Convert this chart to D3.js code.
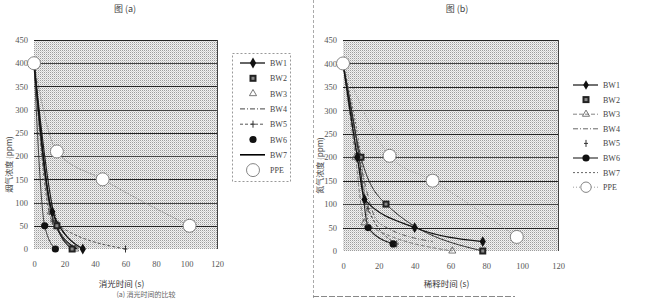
<!DOCTYPE html>
<html>
<head>
<meta charset="utf-8">
<script src="https://cdn.jsdelivr.net/npm/d3@7/dist/d3.min.js"></script>
<style>
  html, body { margin: 0; padding: 0; background: #fff; }
  svg { display: block; }
</style>
</head>
<body>
<svg id="chart" width="655" height="300"></svg>
<script>
// Tick values shared by both panels
const xTicks = [0, 20, 40, 60, 80, 100, 120];
const yTicks = [0, 50, 100, 150, 200, 250, 300, 350, 400, 450];

const seriesNames = ["BW1", "BW2", "BW3", "BW4", "BW5", "BW6", "BW7", "PPE"];

// Panel (a): [time, concentration]
const aBW1 = [[0, 400], [12, 80], [32, 0]];
const aBW2 = [[0, 400], [15, 50], [25, 0]];
const aBW3 = [[0, 400], [11, 80], [27, 0]];
const aBW4 = [[0, 400], [10, 110], [30, 0]];
const aBW5 = [[0, 400], [12, 60], [60, 0]];
const aBW6 = [[0, 400], [7, 50], [14, 0]];
const aBW7 = [[0, 400], [13, 60], [28, 0]];
const aPPE = [[0, 400], [15, 210], [45, 150], [102, 50]];

// Panel (b): [time, concentration]
const bBW1 = [[0, 400], [8, 200], [12, 110], [40, 50], [78, 20]];
const bBW2 = [[0, 400], [10, 200], [24, 100], [78, 0]];
const bBW3 = [[0, 400], [7, 200], [12, 60], [61, 0]];
const bBW4 = [[0, 400], [9, 200], [20, 60], [50, 20]];
const bBW5 = [[0, 400], [8, 200], [14, 90], [30, 15]];
const bBW6 = [[0, 400], [9, 200], [14, 50], [28, 15]];
const bBW7 = [[0, 400], [10, 200], [15, 45], [30, 12]];
const bPPE = [[0, 400], [26, 203], [50, 150], [97, 30]];

const panelA = [aBW1, aBW2, aBW3, aBW4, aBW5, aBW6, aBW7, aPPE];
const panelB = [bBW1, bBW2, bBW3, bBW4, bBW5, bBW6, bBW7, bPPE];

// Per-series drawing style for each panel
const stylesA = [
  { stroke: "#111", width: 1.3, dash: null,      marker: "diamond",  legLine: true },
  { stroke: "#222", width: 1.2, dash: null,      marker: "square",   legLine: false },
  { stroke: "#777", width: 0.8, dash: null,      marker: "triangle", legLine: false },
  { stroke: "#444", width: 1.0, dash: "5,2,1,2", marker: "none",     legLine: true },
  { stroke: "#555", width: 1.0, dash: "3,2",     marker: "plus",     legLine: true },
  { stroke: "#333", width: 0.9, dash: null,      marker: "circle",   legLine: false },
  { stroke: "#000", width: 1.6, dash: null,      marker: "none",     legLine: true },
  { stroke: "#888", width: 0.8, dash: "2,1",     marker: "ppe",      legLine: false }
];
const stylesB = [
  { stroke: "#111", width: 1.2, dash: null,      marker: "diamond",  legLine: true },
  { stroke: "#333", width: 1.0, dash: null,      marker: "square",   legLine: false },
  { stroke: "#777", width: 0.9, dash: "4,2",     marker: "triangle", legLine: true },
  { stroke: "#555", width: 0.9, dash: "5,2,1,2", marker: "none",     legLine: true },
  { stroke: "#444", width: 1.0, dash: "3,2",     marker: "plus",     legLine: false },
  { stroke: "#222", width: 1.1, dash: null,      marker: "circle",   legLine: true },
  { stroke: "#666", width: 1.0, dash: "2,2",     marker: "none",     legLine: true },
  { stroke: "#888", width: 0.8, dash: "1,2",     marker: "ppe",      legLine: true }
];

const svg = d3.select("#chart");
const serif = "'Liberation Serif', 'DejaVu Serif', serif";
const cjk = "'Noto Sans CJK SC', sans-serif";

// Stippled plot background
const defs = svg.append("defs");
const pat = defs.append("pattern").attr("id", "stipple")
  .attr("width", 2).attr("height", 2).attr("patternUnits", "userSpaceOnUse");
pat.append("rect").attr("width", 2).attr("height", 2).attr("fill", "#f2f2f2");
pat.append("rect").attr("width", 1).attr("height", 1).attr("fill", "#9c9c9c");
pat.append("rect").attr("x", 1).attr("y", 1).attr("width", 1).attr("height", 1).attr("fill", "#d0d0d0");

function drawMarker(g, type, x, y, small) {
  const k = small ? 0.8 : 1;
  if (type === "diamond") {
    g.append("path").attr("d", d3.symbol(d3.symbolDiamond, 34 * k)())
      .attr("transform", `translate(${x},${y})`).attr("fill", "#111");
  } else if (type === "square") {
    g.append("rect").attr("x", x - 3.5).attr("y", y - 3.5).attr("width", 7).attr("height", 7)
      .attr("fill", "#222");
    g.append("rect").attr("x", x - 1.5).attr("y", y - 1.5).attr("width", 3).attr("height", 3)
      .attr("fill", "#888");
  } else if (type === "triangle") {
    g.append("path").attr("d", d3.symbol(d3.symbolTriangle, 22)())
      .attr("transform", `translate(${x},${y})`).attr("fill", "none")
      .attr("stroke", "#555").attr("stroke-width", 0.8);
  } else if (type === "plus") {
    g.append("path").attr("d", `M${x},${y - 3.5}V${y + 3.5}M${x - 2},${y}H${x + 2}`)
      .attr("stroke", "#333").attr("stroke-width", 1);
  } else if (type === "circle") {
    g.append("circle").attr("cx", x).attr("cy", y).attr("r", 3.6).attr("fill", "#111");
  } else if (type === "ppe") {
    g.append("circle").attr("cx", x).attr("cy", y).attr("r", 6.5 * k)
      .attr("fill", "#fff").attr("stroke", "#777").attr("stroke-width", 0.9);
  }
}

function drawPanel(opt) {
  const styles = opt.styles;
  const x = d3.scaleLinear().domain([0, 120]).range([opt.x0, opt.x1]);
  const y = d3.scaleLinear().domain([0, 450]).range([opt.y1, opt.y0]);
  const g = svg.append("g");

  g.append("rect").attr("x", opt.x0).attr("y", opt.y0)
    .attr("width", opt.x1 - opt.x0).attr("height", opt.y1 - opt.y0)
    .attr("fill", "url(#stipple)");

  // horizontal gridlines
  g.append("g").selectAll("line").data(yTicks.slice(1)).join("line")
    .attr("x1", opt.x0).attr("x2", opt.x1)
    .attr("y1", d => Math.round(y(d)) + 0.5).attr("y2", d => Math.round(y(d)) + 0.5)
    .attr("stroke", (d, i) => (i % 2 === 0 ? "#222" : "#444"))
    .attr("stroke-width", 1);
  g.append("line").attr("x1", opt.x1 + 0.5).attr("x2", opt.x1 + 0.5)
    .attr("y1", opt.y0).attr("y2", opt.y1).attr("stroke", "#444");

  // axes (labels only, no domain line)
  const yAxis = d3.axisLeft(y).tickValues(yTicks).tickSize(0).tickPadding(6);
  const ya = g.append("g").attr("transform", `translate(${opt.x0},0)`).call(yAxis);
  ya.select(".domain").remove();
  ya.selectAll("text").attr("font-family", serif).attr("font-size", 8.5).attr("fill", "#555");

  const xAxis = d3.axisBottom(x).tickValues(xTicks).tickSize(0).tickPadding(12);
  const xa = g.append("g").attr("transform", `translate(0,${opt.y1})`).call(xAxis);
  xa.select(".domain").remove();
  xa.selectAll("text").attr("font-family", serif).attr("font-size", 8.5).attr("fill", "#555");

  const line = d3.line().x(d => x(d[0])).y(d => y(d[1])).curve(d3.curveMonotoneX);

  // draw curves from the back (PPE) to the front (BW1)
  const order = d3.range(opt.data.length).reverse();
  order.forEach(i => {
    const s = styles[i];
    g.append("path").datum(opt.data[i]).attr("d", line)
      .attr("fill", "none").attr("stroke", s.stroke).attr("stroke-width", s.width)
      .attr("stroke-dasharray", s.dash);
  });
  order.forEach(i => {
    const s = styles[i];
    opt.data[i].forEach((p, k) => {
      if (k === 0 && s.marker !== "ppe") return;
      drawMarker(g, s.marker, x(p[0]), y(p[1]), false);
    });
  });

  // titles
  g.append("text").attr("x", opt.titleX).attr("y", 12).attr("text-anchor", "middle")
    .attr("font-family", cjk).attr("font-size", 9).attr("fill", "#444").text(opt.title);
  g.append("text").attr("x", (opt.x0 + opt.x1) / 2 - 4).attr("y", 287).attr("text-anchor", "middle")
    .attr("font-family", cjk).attr("font-size", 8.5).attr("fill", "#333").text(opt.xTitle);
  g.append("text").attr("transform", `translate(${opt.yTitleX},${(opt.y0 + opt.y1) / 2 + 20}) rotate(-90)`)
    .attr("text-anchor", "middle").attr("font-family", cjk).attr("font-size", 8)
    .attr("fill", "#444").text(opt.yTitle);

  // legend
  const lg = g.append("g");
  if (opt.legendBox) {
    lg.append("rect").attr("x", opt.legendBox[0] + 0.5).attr("y", opt.legendBox[1] + 0.5)
      .attr("width", opt.legendBox[2]).attr("height", opt.legendBox[3])
      .attr("fill", "none").attr("stroke", "#999").attr("stroke-dasharray", "2,2");
  }
  seriesNames.forEach((name, i) => {
    const s = styles[i];
    const ly = opt.legY + i * opt.legStep;
    if (s.legLine) {
      lg.append("line").attr("x1", opt.legX - 13).attr("x2", opt.legX + 12)
        .attr("y1", ly).attr("y2", ly).attr("stroke", s.stroke)
        .attr("stroke-width", s.width).attr("stroke-dasharray", s.dash);
    }
    drawMarker(lg, s.marker, opt.legX, ly, opt.smallLegend);
    lg.append("text").attr("x", opt.legX + 17).attr("y", ly + 3)
      .attr("font-family", serif).attr("font-size", 8).attr("fill", "#444").text(name);
  });
}

drawPanel({
  x0: 34, x1: 217, y0: 40, y1: 249, data: panelA, styles: stylesA,
  title: "图 (a)", titleX: 125, xTitle: "消光时间 (s)", yTitle: "烟气浓度 (ppm)", yTitleX: 12,
  legX: 253, legY: 63, legStep: 15.3, legendBox: [232, 53, 58, 128], smallLegend: false
});
drawPanel({
  x0: 343, x1: 558, y0: 40, y1: 251, data: panelB, styles: stylesB,
  title: "图 (b)", titleX: 457, xTitle: "稀释时间 (s)", yTitle: "氮气浓度 (ppm)", yTitleX: 323,
  legX: 586, legY: 85, legStep: 14.6, legendBox: null, smallLegend: true
});

// page furniture: separator and captions
svg.append("line").attr("x1", 313.5).attr("x2", 313.5).attr("y1", 0).attr("y2", 300)
  .attr("stroke", "#aaa").attr("stroke-dasharray", "3,2");
svg.append("line").attr("x1", 313).attr("x2", 515).attr("y1", 296.5).attr("y2", 296.5)
  .attr("stroke", "#888").attr("stroke-dasharray", "6,2");
svg.append("text").attr("x", 146).attr("y", 297).attr("text-anchor", "middle")
  .attr("font-family", cjk).attr("font-size", 7).attr("fill", "#666").text("(a) 消光时间的比较");
</script>
</body>
</html>
